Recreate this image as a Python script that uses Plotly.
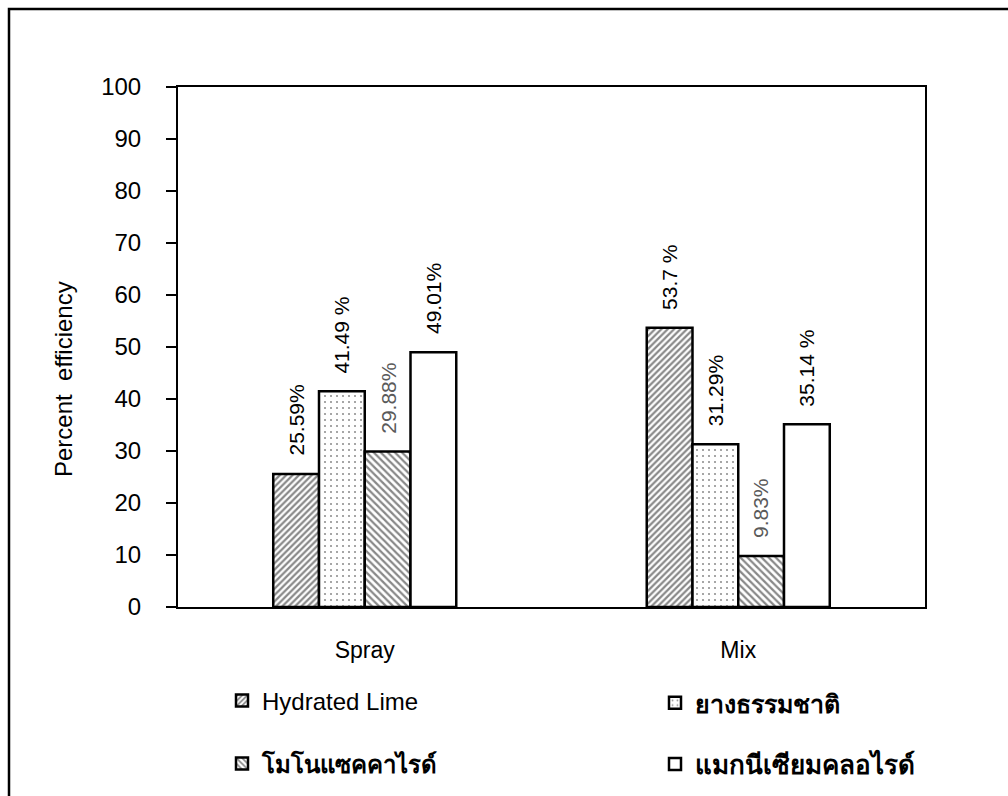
import plotly.graph_objects as go

# Data
categories = ["Spray", "Mix"]
series_names = ["Hydrated Lime", "ยางธรรมชาติ", "โมโนแซคคาไรด์", "แมกนีเซียมคลอไรด์"]
hydrated_lime = [25.59, 53.7]
natural_rubber = [41.49, 31.29]
monosaccharide = [29.88, 9.83]
magnesium_chloride = [49.01, 35.14]
label_text = [
    ["25.59%", "53.7 %"],
    ["41.49 %", "31.29%"],
    ["29.88%", "9.83%"],
    ["49.01%", "35.14 %"],
]
label_color = [
    ["#000000", "#000000"],
    ["#000000", "#000000"],
    ["#5a5a5a", "#5a5a5a"],
    ["#000000", "#000000"],
]
y_ticks = [0, 10, 20, 30, 40, 50, 60, 70, 80, 90, 100]

series_values = [hydrated_lime, natural_rubber, monosaccharide, magnesium_chloride]

FONT = "Liberation Sans, Arial, sans-serif"

patterns = [
    dict(shape="/", size=4.5, solidity=0.5, fgcolor="#111111", bgcolor="white", fillmode="overlay"),
    dict(shape=".", size=6, solidity=0.1, fgcolor="#222222", bgcolor="white", fillmode="overlay"),
    dict(shape="\\", size=5, solidity=0.45, fgcolor="#111111", bgcolor="white", fillmode="overlay"),
    dict(shape="", fgcolor="#000000", bgcolor="white"),
]

W, H = 1008, 796
L, R, T, B = 178, 83, 87, 189
plot_w = W - L - R
plot_h = H - T - B
bargap = 0.51

# legend slots: (left x, vertical centre, font size) in page pixels, 2 x 2 grid
legend_ids = ["legend", "legend2", "legend3", "legend4"]
legend_pos = [(222, 701, 24), (655, 703, 25), (222, 764, 24), (655, 764, 26)]

fig = go.Figure()
for i, (name, vals) in enumerate(zip(series_names, series_values)):
    disp_name = name if i == 0 else f"<b>{name}</b>"
    fig.add_trace(go.Bar(
        x=categories,
        y=vals,
        name=disp_name,
        marker=dict(color="white", pattern=patterns[i],
                    line=dict(color="black", width=2.5)),
        legend=legend_ids[i],
        hoverinfo="skip",
    ))

# rotated value labels above each bar
n = len(series_values)
bw = (1 - bargap) / n
for i, vals in enumerate(series_values):
    for c, v in enumerate(vals):
        xc = c - (1 - bargap) / 2 + bw * (i + 0.5)
        fig.add_annotation(
            x=xc, y=v, xref="x", yref="y",
            text=label_text[i][c], textangle=-90,
            showarrow=False, xanchor="center", yanchor="bottom",
            yshift=16,
            font=dict(family=FONT, size=21, color=label_color[i][c]),
        )

# y-axis title
fig.add_annotation(
    x=(63 - L) / plot_w, y=(H - B - 379) / plot_h, xref="paper", yref="paper",
    text="Percent  efficiency", textangle=-90, showarrow=False,
    xanchor="center", yanchor="middle",
    font=dict(family=FONT, size=24, color="black"),
)

# outer frame of the figure (runs past the right and bottom edges)
fig.add_shape(
    type="rect", xref="paper", yref="paper",
    x0=(9 - L) / plot_w, x1=(W + 10 - L) / plot_w,
    y0=(H - B - (H + 10)) / plot_h, y1=(H - B - 9) / plot_h,
    line=dict(color="black", width=2.5), fillcolor="rgba(0,0,0,0)", layer="below",
)

legend_layout = {}
for lid, (lx, ly, fs) in zip(legend_ids, legend_pos):
    legend_layout[lid] = dict(
        xref="container", yref="container",
        x=lx / W, y=1 - ly / H, xanchor="left", yanchor="middle",
        orientation="h",
        font=dict(family=FONT, size=fs, color="black"),
        bgcolor="rgba(0,0,0,0)", borderwidth=0,
    )

fig.update_layout(
    width=W, height=H,
    margin=dict(l=L, r=R, t=T, b=B, pad=0, autoexpand=False),
    paper_bgcolor="white", plot_bgcolor="white",
    barmode="group", bargap=bargap, bargroupgap=0,
    font=dict(family=FONT, size=24, color="black"),
    showlegend=True,
    xaxis=dict(
        type="category", categoryorder="array", categoryarray=categories,
        showline=True, linecolor="black", linewidth=2, mirror=True,
        ticks="", showgrid=False, zeroline=False,
        tickfont=dict(family=FONT, size=23, color="black"),
        ticklabelstandoff=21,
    ),
    yaxis=dict(
        range=[0, 100], tickvals=y_ticks,
        showline=True, linecolor="black", linewidth=2, mirror=True,
        ticks="outside", ticklen=10, tickwidth=2, tickcolor="black",
        showgrid=False, zeroline=False,
        tickfont=dict(family=FONT, size=24, color="black"),
        ticklabelstandoff=20,
    ),
    **legend_layout,
)

fig.write_html("out.html")
